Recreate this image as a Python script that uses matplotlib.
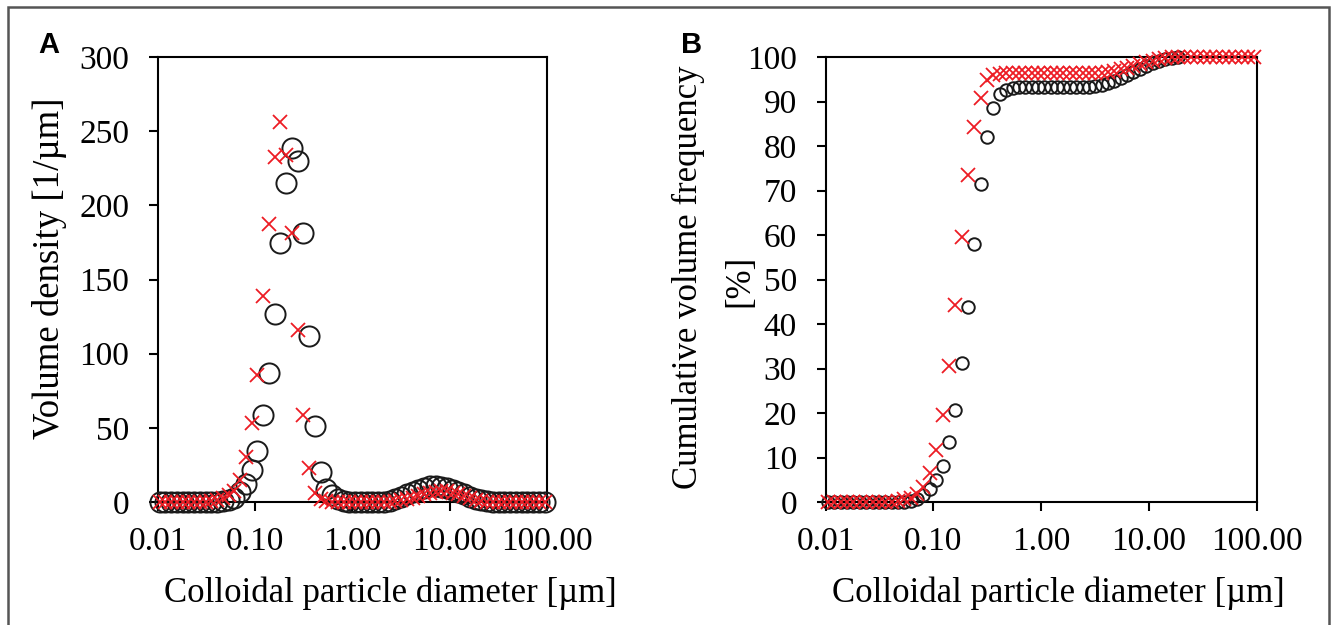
import numpy as np
import matplotlib
matplotlib.use("Agg")
import matplotlib.pyplot as plt
from matplotlib.patches import Rectangle
from matplotlib.ticker import FixedLocator, NullLocator

# particle size classes [um]
diameter = [0.01054, 0.01208, 0.01384, 0.01585, 0.01816, 0.02080, 0.02382, 0.02729, 0.03126, 0.03581,
            0.04102, 0.04699, 0.05383, 0.06166, 0.07063, 0.08091, 0.09268, 0.1062, 0.1216, 0.1393,
            0.1596, 0.1828, 0.2094, 0.2399, 0.2748, 0.3148, 0.3606, 0.4130, 0.4732, 0.5420,
            0.6209, 0.7112, 0.8147, 0.9333, 1.069, 1.225, 1.403, 1.607, 1.841, 2.109,
            2.415, 2.767, 3.170, 3.631, 4.159, 4.764, 5.458, 6.252, 7.161, 8.204,
            9.397, 10.76, 12.33, 14.13, 16.18, 18.54, 21.23, 24.32, 27.86, 31.92,
            36.56, 41.88, 47.97, 54.95, 62.95, 72.11, 82.60, 94.62]

# volume density [1/um]
density_circ = [0, 0, 0, 0, 0, 0, 0, 0, 0, 0,
                0, 0.4, 1.2, 3.0, 6.5, 12.1, 21.6, 34.6, 58.7, 86.8,
                126.5, 174.8, 215.3, 238.9, 230.1, 181.6, 111.9, 51.2, 20.4, 9.0,
                4.5, 2.0, 0.8, 0.2, 0, 0, 0, 0, 0, 0.3,
                1.0, 2.0, 3.5, 5.1, 6.8, 8.4, 9.7, 10.5, 10.6, 10.2,
                9.4, 8.2, 6.7, 5.1, 3.6, 2.3, 1.2, 0.5, 0.2, 0,
                0, 0, 0, 0, 0, 0, 0, 0]
density_x = [0, 0, 0, 0, 0, 0, 0, 0, 0, 0.5,
             1.2, 2.7, 4.7, 7.6, 14.8, 30.5, 53.5, 85.4, 138.9, 187.4,
             232.8, 256.4, 233.9, 181.1, 116.0, 58.7, 22.7, 5.8, 2.0, 0.5,
             0, 0, 0, 0, 0, 0, 0, 0, 0, 0,
             0.2, 0.6, 1.2, 2.0, 3.0, 4.2, 5.3, 6.3, 7.0, 7.4,
             7.2, 6.4, 5.2, 3.8, 2.5, 1.4, 0.6, 0.2, 0, 0,
             0, 0, 0, 0, 0, 0, 0, 0]

# cumulative volume frequency [%]
cumul_circ = [0, 0, 0, 0, 0, 0, 0, 0, 0, 0,
              0, 0.0, 0.1, 0.3, 0.7, 1.5, 3.0, 4.9, 8.2, 13.4,
              20.7, 31.2, 43.9, 58.0, 71.5, 82.1, 88.5, 91.6, 92.6, 93.0,
              93.2, 93.2, 93.2, 93.2, 93.2, 93.2, 93.2, 93.2, 93.2, 93.2,
              93.2, 93.3, 93.5, 93.8, 94.2, 94.7, 95.3, 96.0, 96.7, 97.4,
              98.0, 98.6, 99.1, 99.5, 99.8, 100.0]
cumul_x = [0, 0, 0, 0, 0, 0, 0, 0, 0, 0,
           0.1, 0.3, 0.6, 1.0, 1.9, 3.4, 6.6, 11.7, 19.6, 30.6,
           44.3, 59.6, 73.5, 84.2, 90.7, 94.8, 95.9, 96.2, 96.3, 96.3,
           96.3, 96.3, 96.3, 96.3, 96.3, 96.3, 96.3, 96.3, 96.3, 96.3,
           96.3, 96.3, 96.4, 96.5, 96.7, 96.9, 97.2, 97.6, 98.0, 98.4,
           98.9, 99.2, 99.5, 99.8, 99.9, 100.0, 100.0, 100.0, 100.0, 100.0,
           100.0, 100.0, 100.0, 100.0, 100.0, 100.0, 100.0, 100.0]

xticks = [0.01, 0.1, 1, 10, 100]
xticklabels = ["0.01", "0.10", "1.00", "10.00", "100.00"]

SERIF = "Liberation Serif"
RED = "#ed1c24"
W, H = 1332, 625


def style_axes(ax, yticks):
    ax.set_xscale("log")
    ax.set_xlim(0.01, 100)
    ax.set_ylim(yticks[0], yticks[-1])
    ax.xaxis.set_major_locator(FixedLocator(xticks))
    ax.xaxis.set_minor_locator(NullLocator())
    ax.set_xticklabels(xticklabels)
    ax.set_yticks(yticks)
    for s in ax.spines.values():
        s.set_linewidth(1.5)
    ax.tick_params(direction="out", length=6.5, width=1.5, labelsize=24)
    ax.tick_params(axis="y", pad=14)
    ax.tick_params(axis="x", pad=11)
    for lab in ax.get_xticklabels() + ax.get_yticklabels():
        lab.set_fontfamily(SERIF)


def fx(px):
    return px / W


def fy(py):
    return 1 - py / H


def plot():
    fig = plt.figure(figsize=(W / 100, H / 100), dpi=100)
    axA = fig.add_axes([fx(157.5), fy(502), fx(547) - fx(157.5), fy(57) - fy(502)])
    axB = fig.add_axes([fx(825.5), fy(502), fx(1257) - fx(825.5), fy(57) - fy(502)])

    axA.plot(diameter, density_circ, "o", ms=14.5, mfc="none", mec="#1a1a1a",
             mew=1.4, clip_on=False, zorder=3)
    axA.plot(diameter, density_x, "x", ms=10.5, mec=RED, mew=1.3,
             clip_on=False, zorder=4)
    style_axes(axA, list(range(0, 301, 50)))

    axB.plot(diameter[:len(cumul_circ)], cumul_circ, "o", ms=9, mfc="none",
             mec="#1a1a1a", mew=1.4, clip_on=False, zorder=3)
    axB.plot(diameter, cumul_x, "x", ms=10.5, mec=RED, mew=1.3,
             clip_on=False, zorder=4)
    style_axes(axB, list(range(0, 101, 10)))

    # axis titles
    fig.text(fx(390), fy(593), "Colloidal particle diameter [\u00b5m]", family=SERIF,
             fontsize=25, ha="center", va="center")
    fig.text(fx(1058), fy(593), "Colloidal particle diameter [\u00b5m]", family=SERIF,
             fontsize=25, ha="center", va="center")
    fig.text(fx(50), fy(268), "Volume density [1/\u00b5m]", family=SERIF,
             fontsize=26.5, rotation=90, ha="center", va="center")
    fig.text(fx(688), fy(277), "Cumulative volume frequency", family=SERIF,
             fontsize=25, rotation=90, ha="center", va="center")
    fig.text(fx(740), fy(281), "[%]", family=SERIF,
             fontsize=25, rotation=90, ha="center", va="center")

    # panel letters
    fig.text(fx(49), fy(45), "A", family="Liberation Sans", weight="bold",
             fontsize=21, ha="center", va="center")
    fig.text(fx(692), fy(45), "B", family="Liberation Sans", weight="bold",
             fontsize=21, ha="center", va="center")

    # frame round the figure
    fig.patches.append(Rectangle((fx(8), -0.02), fx(1329) - fx(8), fy(6.5) + 0.02,
                                 transform=fig.transFigure, fill=False,
                                 edgecolor="#555555", linewidth=1.8))

    fig.savefig("out.png", dpi=100)


def main():
    plot()


if __name__ == "__main__":
    main()
